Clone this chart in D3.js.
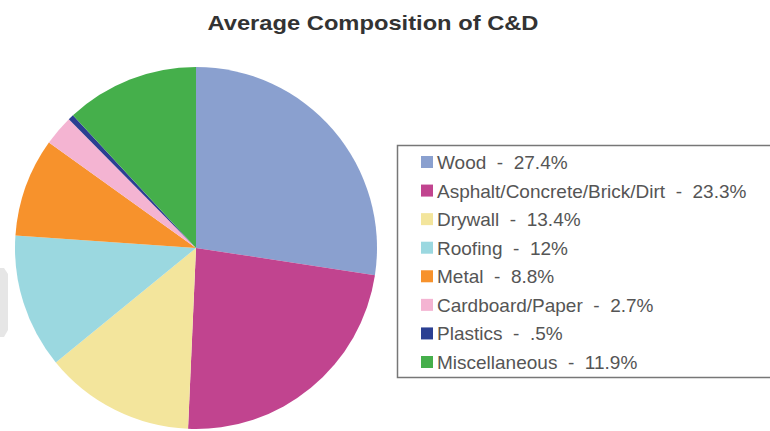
<!DOCTYPE html>
<html>
<head>
<meta charset="utf-8">
<script src="https://cdn.jsdelivr.net/npm/d3@7"></script>
<style>
  body { margin: 0; background: #fff; }
  svg { display: block; font-family: "Liberation Sans", Arial, sans-serif; }
</style>
</head>
<body>
<div id="chart"></div>
<script>
var categories = ["Wood", "Asphalt/Concrete/Brick/Dirt", "Drywall", "Roofing", "Metal",
                  "Cardboard/Paper", "Plastics", "Miscellaneous"];
var values = [27.4, 23.3, 13.4, 12, 8.8, 2.7, 0.5, 11.9];
var valueLabels = ["27.4%", "23.3%", "13.4%", "12%", "8.8%", "2.7%", ".5%", "11.9%"];
var colors = ["#8aa0cf", "#c1448f", "#f3e59c", "#9bd8e0", "#f7922c", "#f4b4d2", "#2b3f92", "#45af4b"];

var width = 770, height = 431;

var svg = d3.select("#chart")
    .append("svg")
        .attr("width", width)
        .attr("height", height);

// faint grey tab at the far left edge
svg.append("path")
    .attr("d", "M0,268 L4,268 L8,274 L8,330 L4,337 L0,337 Z")
    .style("fill", "#e6e6e6");

svg.append("text")
    .attr("x", 373)
    .attr("y", 30)
    .attr("text-anchor", "middle")
    .attr("textLength", 331)
    .attr("lengthAdjust", "spacingAndGlyphs")
    .style("font-size", "21px")
    .style("font-weight", "bold")
    .style("fill", "#333")
    .text("Average Composition of C&D");

var color = d3.scaleOrdinal()
    .domain(categories)
    .range(colors);

var pie = d3.pie()
    .sort(null)
    .value(function(d) { return d.value; });

var arc = d3.arc()
    .innerRadius(0)
    .outerRadius(181);

var data = categories.map(function(c, i) {
    return {name: c, value: values[i], label: valueLabels[i]};
});

var g = svg.append("g")
    .attr("transform", "translate(196,248)");

g.selectAll("path")
    .data(pie(data))
    .enter()
    .append("path")
        .attr("d", arc)
        .style("fill", function(d) { return color(d.data.name); });

// legend
var legend = svg.append("g")
    .attr("transform", "translate(397,145)");

legend.append("rect")
    .attr("x", 0.5)
    .attr("y", 0.5)
    .attr("width", 390)
    .attr("height", 232)
    .style("fill", "#fff")
    .style("stroke", "#777")
    .style("stroke-width", 1.5);

var rowY = d3.scaleLinear()
    .domain([0, categories.length - 1])
    .range([17, 217]);

var rows = legend.selectAll(".row")
    .data(data)
    .enter()
    .append("g")
        .attr("class", "row")
        .attr("transform", function(d, i) { return "translate(0," + rowY(i) + ")"; });

rows.append("rect")
    .attr("x", 24)
    .attr("y", -6)
    .attr("width", 12)
    .attr("height", 12)
    .style("fill", function(d) { return color(d.name); });

rows.append("text")
    .attr("x", 40)
    .attr("y", 7)
    .style("font-size", "19px")
    .style("fill", "#555")
    .style("white-space", "pre")
    .text(function(d) { return d.name + "  -  " + d.label; });
</script>
</body>
</html>
